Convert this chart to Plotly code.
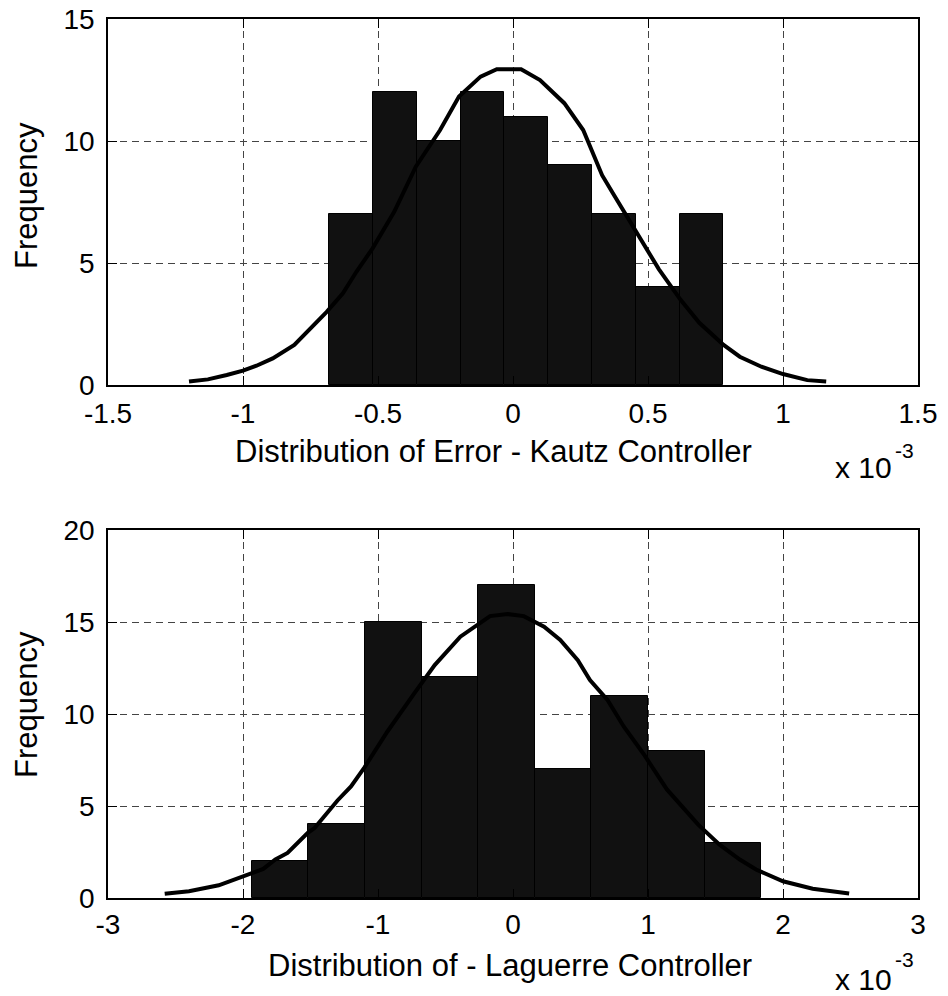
import plotly.graph_objects as go

W, H = 948, 996

# ---------------- data (x in units of 1e-3) ----------------
kautz_bin_edges = [-0.680, -0.518, -0.356, -0.194, -0.032, 0.131, 0.293, 0.455, 0.617, 0.779]
kautz_counts = [7, 12, 10, 12, 11, 9, 7, 4, 7]
kautz_fit_x = [-1.20, -1.13, -1.06, -1.00, -0.95, -0.89, -0.81, -0.75, -0.69, -0.63, -0.58, -0.52,
               -0.44, -0.36, -0.27, -0.20, -0.12, -0.06, 0.03, 0.10, 0.19, 0.26, 0.33, 0.37, 0.45,
               0.54, 0.62, 0.69, 0.78, 0.84, 0.92, 1.00, 1.09, 1.16]
kautz_fit_y = [0.14, 0.23, 0.41, 0.59, 0.79, 1.09, 1.64, 2.32, 3.00, 3.76, 4.64, 5.60,
               7.10, 8.95, 10.45, 11.82, 12.64, 12.94, 12.94, 12.50, 11.55, 10.45, 8.60, 7.86, 6.40,
               4.75, 3.50, 2.55, 1.64, 1.16, 0.75, 0.45, 0.20, 0.14]

laguerre_bin_edges = [-1.936, -1.517, -1.097, -0.677, -0.258, 0.162, 0.581, 1.001, 1.421, 1.840]
laguerre_counts = [2, 4, 15, 12, 17, 7, 11, 8, 3]
laguerre_fit_x = [-2.58, -2.40, -2.18, -2.00, -1.85, -1.76, -1.67, -1.52, -1.47, -1.30, -1.20, -1.10,
                  -0.93, -0.73, -0.58, -0.39, -0.17, -0.04, 0.08, 0.23, 0.35, 0.48, 0.57, 0.70,
                  0.82, 0.97, 1.14, 1.37, 1.53, 1.68, 1.80, 2.00, 2.22, 2.49]
laguerre_fit_y = [0.23, 0.37, 0.69, 1.18, 1.58, 2.09, 2.45, 3.54, 3.80, 5.30, 6.06, 7.10,
                  9.05, 11.13, 12.66, 14.20, 15.32, 15.43, 15.32, 14.74, 14.02, 12.93, 11.85, 10.76,
                  9.32, 7.80, 5.90, 4.00, 2.90, 2.09, 1.55, 0.91, 0.50, 0.24]

top_xticks = [-1.5, -1, -0.5, 0, 0.5, 1, 1.5]
top_xticktext = ["-1.5", "-1", "-0.5", "0", "0.5", "1", "1.5"]
top_yticks = [0, 5, 10, 15]
bot_xticks = [-3, -2, -1, 0, 1, 2, 3]
bot_xticktext = ["-3", "-2", "-1", "0", "1", "2", "3"]
bot_yticks = [0, 5, 10, 15, 20]

top_xlabel = "Distribution of Error - Kautz Controller"
bot_xlabel = "Distribution of - Laguerre Controller"
ylabel = "Frequency"
exp_base = "x 10"
exp_power = "-3"

# ---------------- figure ----------------
FONT = "Liberation Sans, Arial, Helvetica, sans-serif"


def px_x(p):
    return p / W


def px_y(p):
    return 1 - p / H


def bars(edges, counts, xa, ya):
    centers = [(edges[i] + edges[i + 1]) / 2 for i in range(len(counts))]
    widths = [edges[i + 1] - edges[i] for i in range(len(counts))]
    return go.Bar(x=centers, y=counts, width=widths, xaxis=xa, yaxis=ya,
                  marker=dict(color="#111111", line=dict(color="#000000", width=1)),
                  showlegend=False, hoverinfo="x+y")


def curve(xs, ys, xa, ya):
    return go.Scatter(x=xs, y=ys, mode="lines", xaxis=xa, yaxis=ya,
                      line=dict(color="#000000", width=4), showlegend=False)


fig = go.Figure()
fig.add_trace(bars(kautz_bin_edges, kautz_counts, "x", "y"))
fig.add_trace(curve(kautz_fit_x, kautz_fit_y, "x", "y"))
fig.add_trace(bars(laguerre_bin_edges, laguerre_counts, "x2", "y2"))
fig.add_trace(curve(laguerre_fit_x, laguerre_fit_y, "x2", "y2"))

xdom = [px_x(108), px_x(918)]
top_dom = [px_y(385), px_y(19)]
bot_dom = [px_y(898), px_y(530)]

axis_common = dict(
    automargin=False, ticklabeloverflow="allow",
    showline=True, linecolor="#000000", linewidth=1.5, mirror="ticks",
    ticks="inside", ticklen=9, tickwidth=1, tickcolor="#000000",
    showgrid=True, gridcolor="#444444", griddash="7px,5px", gridwidth=1,
    zeroline=False, tickfont=dict(family=FONT, size=28, color="#000000"),
)

fig.update_layout(
    template="none",
    width=W, height=H,
    margin=dict(l=0, r=0, t=0, b=0, autoexpand=False),
    paper_bgcolor="white", plot_bgcolor="white",
    bargap=0,
    font=dict(family=FONT, color="#000000"),
    xaxis=dict(domain=xdom, anchor="y", range=[-1.5, 1.5], tickmode="array",
               tickvals=top_xticks, ticktext=top_xticktext, ticklabelstandoff=3, **axis_common),
    yaxis=dict(domain=top_dom, anchor="x", range=[0, 15], tickmode="array",
               tickvals=top_yticks, ticklabelstandoff=6, **axis_common),
    xaxis2=dict(domain=xdom, anchor="y2", range=[-3, 3], tickmode="array",
                tickvals=bot_xticks, ticktext=bot_xticktext, ticklabelstandoff=1, **axis_common),
    yaxis2=dict(domain=bot_dom, anchor="x2", range=[0, 20], tickmode="array",
                tickvals=bot_yticks, ticklabelstandoff=6, **axis_common),
)

ann_font = dict(family=FONT, size=31, color="#000000")
fig.add_annotation(text=top_xlabel, x=px_x(494), y=px_y(451), xref="paper", yref="paper",
                   showarrow=False, font=ann_font, xanchor="center", yanchor="middle")
fig.add_annotation(text=bot_xlabel, x=px_x(510), y=px_y(965), xref="paper", yref="paper",
                   showarrow=False, font=ann_font, xanchor="center", yanchor="middle")
fig.add_annotation(text=ylabel, x=px_x(26), y=px_y(196), xref="paper", yref="paper",
                   showarrow=False, font=ann_font, textangle=-90, xanchor="center", yanchor="middle")
fig.add_annotation(text=ylabel, x=px_x(26), y=px_y(705), xref="paper", yref="paper",
                   showarrow=False, font=ann_font, textangle=-90, xanchor="center", yanchor="middle")

base_font = dict(family=FONT, size=30, color="#000000")
pow_font = dict(family=FONT, size=21, color="#000000")
for yb, yp in [(467, 450), (979, 959)]:
    fig.add_annotation(text=exp_base, x=px_x(833), y=px_y(yb), xref="paper", yref="paper",
                       showarrow=False, font=base_font, xanchor="left", yanchor="middle")
    fig.add_annotation(text=exp_power, x=px_x(893), y=px_y(yp), xref="paper", yref="paper",
                       showarrow=False, font=pow_font, xanchor="left", yanchor="middle")

# remove the browser's default 8px body margin so the 948x996 figure fills the window exactly
fig.write_html("out.html", config={"displayModeBar": False},
               post_script="document.body.style.margin='0px';")
